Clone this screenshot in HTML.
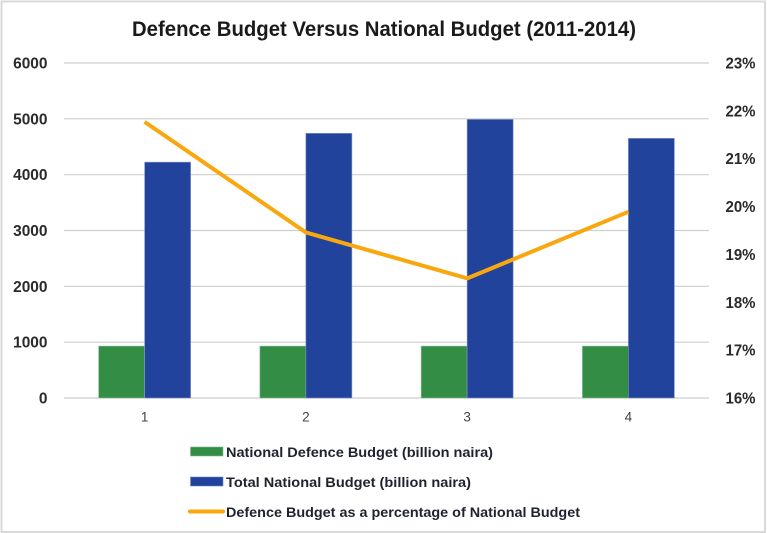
<!DOCTYPE html>
<html lang="en">
<head>
<meta charset="utf-8">
<title>Defence Budget Versus National Budget (2011-2014)</title>
<style>
html,body{margin:0;padding:0;background:#fff;}
svg{display:block;font-family:"Liberation Sans",sans-serif;filter:blur(0.3px);}
</style>
</head>
<body>
<svg id="chart" width="767" height="533" viewBox="0 0 767 533" xmlns="http://www.w3.org/2000/svg">
  <rect x="1.5" y="1.5" width="763.5" height="530.5" fill="#fff" stroke="#d9d9d9" stroke-width="2"/>
  <text x="384" y="36" text-anchor="middle" font-size="21" font-weight="700" fill="#1a1a1a" textLength="504" lengthAdjust="spacingAndGlyphs">Defence Budget Versus National Budget (2011-2014)</text>
  <g id="grid"></g>
  <g id="yLeft"></g>
  <g id="yRight"></g>
  <g id="bars"></g>
  <polyline id="line" fill="none" stroke="#f9a70f" stroke-width="4" stroke-linejoin="round"></polyline>
  <g id="xAxis"></g>
  <g>
    <g>
      <rect x="190.5" y="447" width="32.5" height="9" fill="#338d44" stroke="#7fb98a" stroke-width="0.6"/>
      <text x="226" y="457" font-size="14" font-weight="700" fill="#1f2330" textLength="267" lengthAdjust="spacingAndGlyphs">National Defence Budget (billion naira)</text>
    </g>
    <g>
      <rect x="190.5" y="477" width="32.5" height="9" fill="#21439b" stroke="#6f86c0" stroke-width="0.6"/>
      <text x="226" y="487" font-size="14" font-weight="700" fill="#1f2330" textLength="245" lengthAdjust="spacingAndGlyphs">Total National Budget (billion naira)</text>
    </g>
    <g>
      <line x1="190" y1="511.5" x2="223" y2="511.5" stroke="#f9a70f" stroke-width="4" stroke-linecap="round"/>
      <text x="226" y="517" font-size="14" font-weight="700" fill="#1f2330" textLength="354" lengthAdjust="spacingAndGlyphs">Defence Budget as a percentage of National Budget</text>
    </g>
  </g>
</svg>
<script>
const categories = ["1", "2", "3", "4"];
const defenceBudget = [930, 930, 930, 930];
const totalBudget = [4224, 4740, 4990, 4650];
const defencePercent = [21.77, 19.46, 18.5, 19.89];
const leftTicks = [0, 1000, 2000, 3000, 4000, 5000, 6000];
const rightTicks = [16, 17, 18, 19, 20, 21, 22, 23];

const NS = "http://www.w3.org/2000/svg";
const plotLeft = 64, plotRight = 709, plotTop = 63, plotBottom = 398;
const barWidth = 46;

function yLeft(v) { return plotBottom - (v / 6000) * (plotBottom - plotTop); }
function yRight(v) { return plotBottom - ((v - 16) / 7) * (plotBottom - plotTop); }
function xCenter(i) { return plotLeft + (i + 0.5) * (plotRight - plotLeft) / categories.length; }
function make(tag, attrs, text) {
  const el = document.createElementNS(NS, tag);
  for (const k in attrs) el.setAttribute(k, attrs[k]);
  if (text !== undefined) el.textContent = text;
  return el;
}

const grid = document.getElementById("grid");
const yLeftG = document.getElementById("yLeft");
const yRightG = document.getElementById("yRight");
const barsG = document.getElementById("bars");
const xAxisG = document.getElementById("xAxis");

leftTicks.forEach(function (t) {
  const y = yLeft(t);
  const gl = make("line", { x1: plotLeft, x2: plotRight, y1: y, y2: y, stroke: "#cfcfcf", "stroke-width": 1.2 });
  
  
  grid.appendChild(gl);
  const label = String(t);
  const lb = make("text", { x: 47.5, y: y + 5.5, "text-anchor": "end", "font-size": 16, "font-weight": 700, fill: "#2a2a2a", textLength: label.length * 8.6, lengthAdjust: "spacingAndGlyphs" }, label);
  
  
  yLeftG.appendChild(lb);
});

rightTicks.forEach(function (t) {
  const lb = make("text", { x: 755.5, y: yRight(t) + 5.5, "text-anchor": "end", "font-size": 16, "font-weight": 700, fill: "#2a2a2a", textLength: 30, lengthAdjust: "spacingAndGlyphs" }, t + "%");
  
  
  yRightG.appendChild(lb);
});

categories.forEach(function (c, i) {
  const cx = xCenter(i);
  const g = make("rect", { x: cx - barWidth, y: yLeft(defenceBudget[i]), width: barWidth, height: plotBottom - yLeft(defenceBudget[i]), fill: "#338d44", stroke: "#8fc29a", "stroke-width": 0.6 });
  
  
  barsG.appendChild(g);
  const b = make("rect", { x: cx, y: yLeft(totalBudget[i]), width: barWidth, height: plotBottom - yLeft(totalBudget[i]), fill: "#21439b", stroke: "#7f95c9", "stroke-width": 0.6 });
  
  
  barsG.appendChild(b);
  const lb = make("text", { x: cx, y: 421.5, "text-anchor": "middle", "font-size": 13.5, fill: "#444" }, c);
  
  
  xAxisG.appendChild(lb);
});

document.getElementById("line").setAttribute("points", defencePercent.map(function (v, i) {
  return xCenter(i) + "," + yRight(v);
}).join(" "));
</script>
</body>
</html>
